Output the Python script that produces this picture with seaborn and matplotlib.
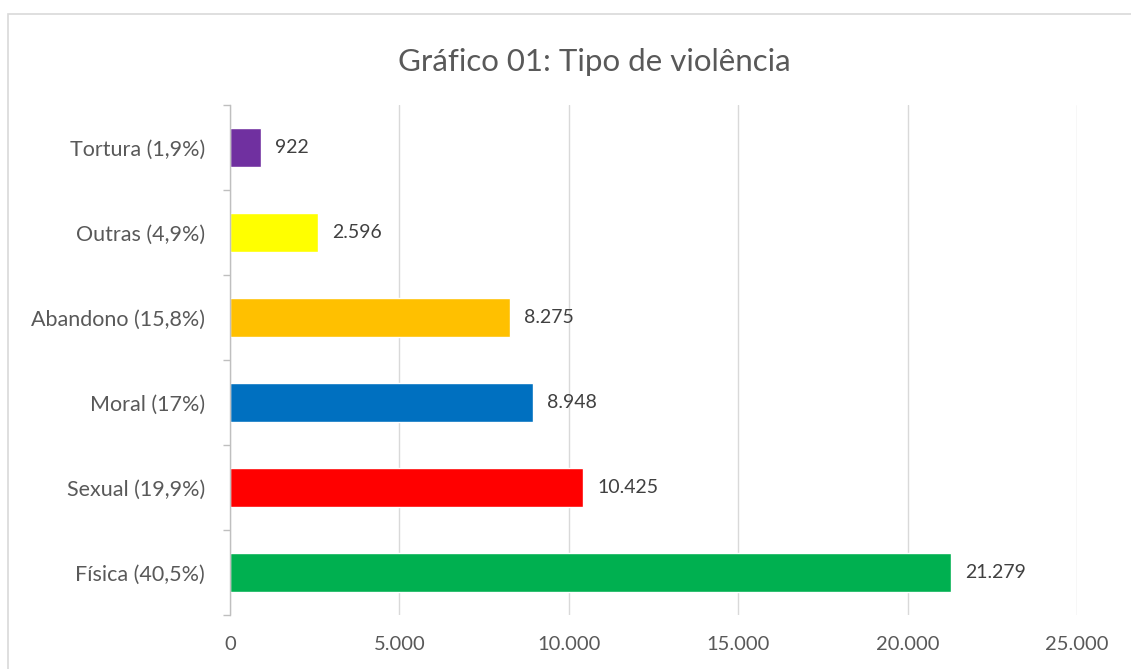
import matplotlib
matplotlib.use("Agg")
import matplotlib.pyplot as plt
import seaborn as sns
import pandas as pd
from matplotlib.patches import Rectangle
from matplotlib.ticker import FuncFormatter, FixedLocator

categories = ["Tortura (1,9%)", "Outras (4,9%)", "Abandono (15,8%)", "Moral (17%)", "Sexual (19,9%)", "Física (40,5%)"]
values = [922, 2596, 8275, 8948, 10425, 21279]
colors = ["#7030A0", "#FFFF00", "#FFC000", "#0070C0", "#FF0000", "#00B050"]
xticks = [0, 5000, 10000, 15000, 20000, 25000]
title = "Gráfico 01: Tipo de violência"

sns.set_theme(style="white")
plt.rcParams['font.family'] = ['Lato', 'DejaVu Sans']

df = pd.DataFrame({"cat": categories, "val": values})

fig = plt.figure(figsize=(11.31, 6.69), dpi=100)
fig.patches.append(Rectangle((8/1131, -0.1), 1.2, 1.1 - 14/669, transform=fig.transFigure,
                             fill=False, edgecolor="#D9D9D9", linewidth=1.2, zorder=0))
ax = fig.add_axes([230/1131, 1 - 615/669, (1077 - 230)/1131, (615 - 105)/669])

sns.barplot(data=df, x="val", y="cat", hue="cat", palette=colors, orient="h",
            width=0.45, legend=False, ax=ax, saturation=1)

ax.set_xlim(0, 25000)
ax.set_ylim(len(categories) - 0.5, -0.5)
ax.xaxis.set_major_locator(FixedLocator(xticks))
ax.xaxis.set_major_formatter(FuncFormatter(lambda v, p: f"{int(v):,}".replace(",", ".")))
ax.grid(axis="x", color="#D9D9D9", linewidth=1)
ax.set_axisbelow(True)
for s in ["top", "right", "bottom"]:
    ax.spines[s].set_visible(False)
ax.spines["left"].set_color("#BFBFBF")
ax.spines["left"].set_linewidth(1)
ax.set_xlabel("")
ax.set_ylabel("")
ax.tick_params(axis="x", length=0, labelsize=14.5, labelcolor="#595959", pad=15)
ax.tick_params(axis="y", length=0, labelsize=15.5, labelcolor="#595959", pad=18)
ax.set_yticks(range(len(categories)), minor=False)
ax.set_yticks([i - 0.5 for i in range(len(categories) + 1)], minor=True)
ax.tick_params(axis="y", which="minor", length=5, color="#BFBFBF", width=1, left=True)

for i, v in enumerate(values):
    ax.annotate(f"{v:,}".replace(",", "."), xy=(v, i), xytext=(10, 0), textcoords="offset points",
                va="center", ha="left", fontsize=14, color="#404040")

fig.text(594/1131, 1 - 62/669, title, ha="center", va="center", fontsize=22.5, color="#595959")

fig.savefig("out.png", dpi=100, facecolor="white")
